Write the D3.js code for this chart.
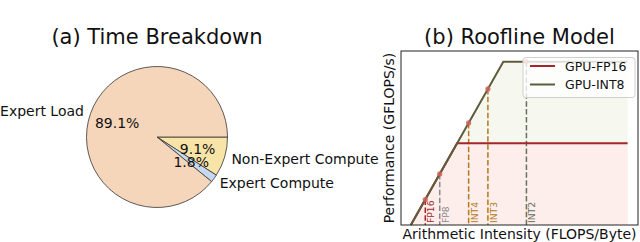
<!DOCTYPE html>
<html><head><meta charset="utf-8">
<script src="https://cdn.jsdelivr.net/npm/d3@7"></script>
<style>body{margin:0;background:#fff}svg{display:block;font-family:"DejaVu Sans",sans-serif}</style>
</head><body><svg id="c" width="640" height="242"></svg>
<script>
// ---- data ----
const pieLabels = ["Non-Expert Compute", "Expert Compute", "Expert Load"];
const pieValues = [9.1, 1.8, 89.1];
const pieColors = ["#f9e4a7", "#c6d8ef", "#f6d6ba"];

const devices = ["GPU-FP16", "GPU-INT8"];
const devicePeaks = [3.2, 6.4];
const deviceColors = ["#a3262a", "#5e5c3c"];
const fillColors = ["#fdeeec", "#f6f7ef"];
const bandwidth = 1;
const maxIntensity = 15;

const formats = ["FP16", "FP8", "INT4", "INT3", "INT2"];
const formatIntensity = [1, 2, 4, 16 / 3, 8];
const formatColors = ["#a3262a", "#8a8a8a", "#b27a1c", "#b27a1c", "#66705a"];

const svg = d3.select("#c");

// ---- (a) pie ----
const cx = 157, cy = 137, R = 70.5;
svg.append("text").attr("x", cx).attr("y", 44).attr("text-anchor", "middle")
  .attr("font-size", 21).attr("fill", "#111").text("(a) Time Breakdown");
const g = svg.append("g").attr("transform", `translate(${cx},${cy})`);
const pie = d3.pie().sort(null).startAngle(Math.PI / 2).endAngle(Math.PI / 2 + 2 * Math.PI);
const arcs = pie(pieValues);
const arc = d3.arc().innerRadius(0).outerRadius(R);
g.selectAll("path").data(arcs).join("path")
  .attr("d", arc).attr("fill", (d, i) => pieColors[i])
  .attr("stroke", "#333").attr("stroke-width", 0.8).attr("stroke-linejoin", "round");
const labelArc = d3.arc().innerRadius(R * 1.1).outerRadius(R * 1.1);
const pctArc = d3.arc().innerRadius(R * 0.6).outerRadius(R * 0.6);
g.selectAll("text.lab").data(arcs).join("text").attr("class", "lab")
  .attr("x", d => labelArc.centroid(d)[0]).attr("y", d => labelArc.centroid(d)[1])
  .attr("dy", "0.36em").attr("font-size", 14).attr("fill", "#111")
  .attr("text-anchor", d => labelArc.centroid(d)[0] < 0 ? "end" : "start")
  .text((d, i) => pieLabels[i]);
g.selectAll("text.pct").data(arcs).join("text").attr("class", "pct")
  .attr("x", d => pctArc.centroid(d)[0]).attr("y", d => pctArc.centroid(d)[1])
  .attr("dy", "0.36em").attr("font-size", 14).attr("fill", "#111").attr("text-anchor", "middle")
  .text((d, i) => pieValues[i].toFixed(1) + "%");

// ---- (b) roofline ----
const L = 401, Rr = 638, T = 51, B = 225;
const x = d3.scaleLinear().domain([-0.68, 15.72]).range([L, Rr]);
const y = d3.scaleLinear().domain([0, 6.82]).range([B, T]);
svg.append("text").attr("x", (L + Rr) / 2).attr("y", 44).attr("text-anchor", "middle")
  .attr("font-size", 21).attr("fill", "#111").text("(b) Roofline Model");

const rooflinePts = p => {
  const knee = p / bandwidth;
  return [[0, 0], [knee, p], [maxIntensity, p]];
};
const line = d3.line().x(d => x(d[0])).y(d => y(d[1]));
// fills (INT8 behind, FP16 on top)
[1, 0].forEach(i => {
  const pts = rooflinePts(devicePeaks[i]).concat([[maxIntensity, 0]]);
  svg.append("path").attr("d", line(pts) + "Z").attr("fill", fillColors[i]);
});
// dashed verticals
formats.forEach((f, i) => {
  const ai = formatIntensity[i];
  const perf = Math.min(devicePeaks[1], bandwidth * ai);
  svg.append("line").attr("x1", x(ai)).attr("x2", x(ai)).attr("y1", y(perf)).attr("y2", y(0))
    .attr("stroke", formatColors[i]).attr("stroke-width", 1.5).attr("stroke-dasharray", "5.5,2.4");
});
// roof lines
devices.forEach((dname, i) => {
  svg.append("path").attr("d", line(rooflinePts(devicePeaks[i]))).attr("fill", "none")
    .attr("stroke", deviceColors[i]).attr("stroke-width", 2);
});
// dots
formats.forEach((f, i) => {
  const ai = formatIntensity[i];
  const perf = Math.min(devicePeaks[1], bandwidth * ai);
  svg.append("circle").attr("cx", x(ai)).attr("cy", y(perf)).attr("r", 2.6)
    .attr("fill", "#d0605a").attr("fill-opacity", 0.85);
  svg.append("text").attr("transform", `translate(${x(ai) + 9},${B - 2}) rotate(-90)`)
    .attr("font-size", 9.2).attr("fill", formatColors[i]).text(f);
});
// frame
svg.append("rect").attr("x", L).attr("y", T).attr("width", Rr - L).attr("height", B - T)
  .attr("fill", "none").attr("stroke", "#222").attr("stroke-width", 1);
// axis labels
svg.append("text").attr("x", (L + Rr) / 2).attr("y", 239).attr("text-anchor", "middle")
  .attr("font-size", 14).attr("fill", "#111").text("Arithmetic Intensity (FLOPS/Byte)");
svg.append("text").attr("transform", `translate(394,${(T + B) / 2}) rotate(-90)`)
  .attr("text-anchor", "middle").attr("font-size", 14).attr("fill", "#111")
  .text("Performance (GFLOPS/s)");
// legend
const lg = svg.append("g");
lg.append("rect").attr("x", 523).attr("y", 57.5).attr("width", 112).attr("height", 40).attr("rx", 3)
  .attr("fill", "#fff").attr("fill-opacity", 0.8).attr("stroke", "#d0d0d0").attr("stroke-width", 1);
devices.forEach((dname, i) => {
  const yy = 66 + i * 18.5;
  lg.append("line").attr("x1", 530).attr("x2", 555).attr("y1", yy).attr("y2", yy)
    .attr("stroke", deviceColors[i]).attr("stroke-width", 2);
  lg.append("text").attr("x", 565).attr("y", yy).attr("dy", "0.36em").attr("font-size", 12.5)
    .attr("fill", "#111").text(dname);
});
</script></body></html>
